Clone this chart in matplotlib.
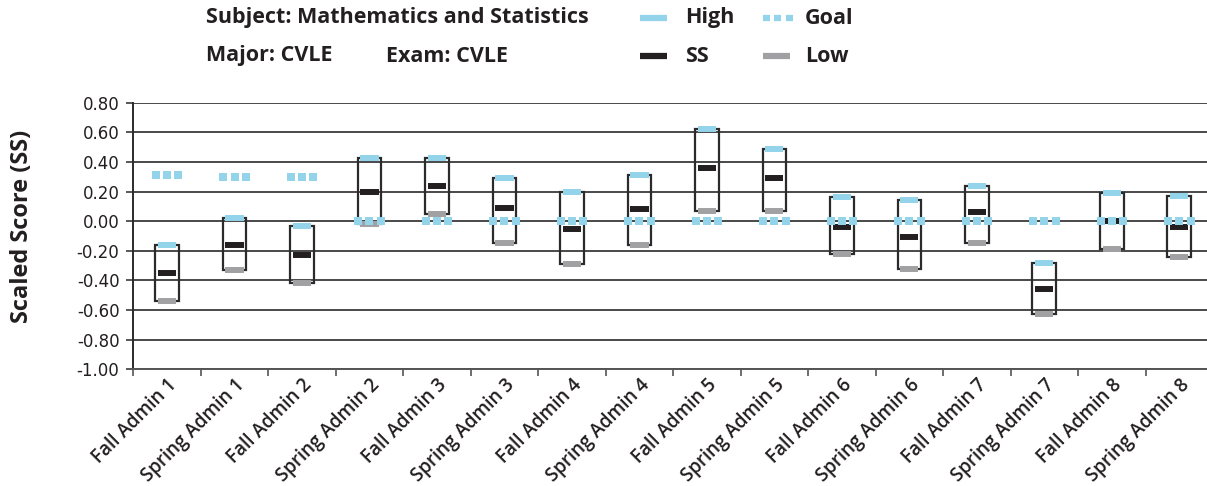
import numpy as np
import matplotlib
matplotlib.use("Agg")
import matplotlib.pyplot as plt
from matplotlib.lines import Line2D
from matplotlib.patches import Rectangle

plt.rcParams['axes.unicode_minus'] = False

admins = ['Fall Admin 1', 'Spring Admin 1', 'Fall Admin 2', 'Spring Admin 2',
          'Fall Admin 3', 'Spring Admin 3', 'Fall Admin 4', 'Spring Admin 4',
          'Fall Admin 5', 'Spring Admin 5', 'Fall Admin 6', 'Spring Admin 6',
          'Fall Admin 7', 'Spring Admin 7', 'Fall Admin 8', 'Spring Admin 8']
high = [-0.16, 0.02, -0.03, 0.43, 0.43, 0.29, 0.20, 0.31,
        0.62, 0.49, 0.16, 0.14, 0.24, -0.28, 0.19, 0.17]
ss = [-0.35, -0.16, -0.23, 0.20, 0.24, 0.09, -0.05, 0.08,
      0.36, 0.29, -0.04, -0.11, 0.06, -0.46, 0.00, -0.04]
low = [-0.54, -0.33, -0.42, -0.02, 0.05, -0.15, -0.29, -0.16,
       0.07, 0.07, -0.22, -0.32, -0.15, -0.63, -0.19, -0.24]
goal = [0.31, 0.30, 0.30, 0.00, 0.00, 0.00, 0.00, 0.00,
        0.00, 0.00, 0.00, 0.00, 0.00, 0.00, 0.00, 0.00]
yticks = [0.8, 0.6, 0.4, 0.2, 0.0, -0.2, -0.4, -0.6, -0.8, -1.0]

c_high = '#93d4ea'
c_ss = '#231f20'
c_low = '#a1a1a4'
c_text = '#231f20'

W, H = 1207, 486
fig = plt.figure(figsize=(W / 100, H / 100), dpi=100)
ax = fig.add_axes([133.3 / W, 116.7 / H, (1213 - 133.3) / W, 266.6 / H])

x = np.arange(len(admins))
ax.set_xlim(-0.5, len(admins) - 0.5)
ax.set_ylim(-1.0, 0.8)

for v in yticks:
    ax.axhline(v, color='#3a3a3a', lw=1.3, zorder=1)

box_w = 0.35
bar_w = 0.27
for i in x:
    ax.add_patch(Rectangle((i - box_w / 2, low[i]), box_w, high[i] - low[i],
                           fill=False, ec='#2b2b2b', lw=1.6, zorder=2))
    ax.plot([i - bar_w / 2, i + bar_w / 2], [high[i]] * 2, color=c_high,
            lw=4.3, solid_capstyle='butt', zorder=3)
    ax.plot([i - bar_w / 2, i + bar_w / 2], [low[i]] * 2, color=c_low,
            lw=4.3, solid_capstyle='butt', zorder=3)
    ax.plot([i - bar_w / 2, i + bar_w / 2], [ss[i]] * 2, color=c_ss,
            lw=4.3, solid_capstyle='butt', zorder=4)
    gx = i + np.array([-1, 0, 1]) * 0.167
    ax.scatter(gx, [goal[i]] * 3, marker='s', s=26, color=c_high,
               linewidths=0, zorder=5)

ax.set_yticks(yticks)
ax.set_yticklabels(['%.2f' % v for v in yticks], family='DejaVu Sans',
                   fontsize=12, color=c_text)
ax.tick_params(axis='y', length=5, width=1.2, color='#3a3a3a', pad=5)

ax.set_xticks(np.arange(len(admins) + 1) - 0.5)
ax.set_xticklabels([])
ax.tick_params(axis='x', which='major', length=5, width=1.2, color='#555555')
ax.set_xticks(x, minor=True)
ax.set_xticklabels(admins, minor=True, rotation=45, ha='right',
                   rotation_mode='anchor', family='Open Sans',
                   fontweight='semibold', fontsize=13.5, color=c_text)
ax.tick_params(axis='x', which='minor', length=0, pad=4)

for s in ['top', 'right']:
    ax.spines[s].set_visible(False)
ax.spines['left'].set_color('#2b2b2b')
ax.spines['left'].set_linewidth(1.4)
ax.spines['bottom'].set_color('#555555')
ax.spines['bottom'].set_linewidth(1.4)

fig.text(22 / W, 1 - 226 / H, 'Scaled Score (SS)', rotation=90, ha='center',
         va='center', family='Open Sans', fontweight='bold', fontsize=17,
         color=c_text)

# header and legend
hdr = dict(family='Open Sans', fontweight='bold', fontsize=15.5,
           color=c_text, va='center')
fig.text(206 / W, 1 - 18 / H, 'Subject: Mathematics and Statistics', **hdr)
fig.text(206 / W, 1 - 56 / H, 'Major: CVLE', **hdr)
fig.text(386 / W, 1 - 56 / H, 'Exam: CVLE', **hdr)

def legend_bar(x0, x1, y, color, dotted=False):
    yy = 1 - y / H
    if dotted:
        for k in range(3):
            xs = x0 + k * 11.3
            fig.add_artist(Line2D([xs / W, (xs + 7) / W], [yy, yy], color=color,
                                  lw=4.5, solid_capstyle='butt'))
    else:
        fig.add_artist(Line2D([x0 / W, x1 / W], [yy, yy], color=color, lw=4.5,
                              solid_capstyle='butt'))

legend_bar(640, 667, 18, c_high)
fig.text(685 / W, 1 - 18 / H, 'High', **hdr)
legend_bar(763, 790, 18, c_high, dotted=True)
fig.text(805 / W, 1 - 18 / H, 'Goal', **hdr)
legend_bar(640, 667, 56, c_ss)
fig.text(685 / W, 1 - 56 / H, 'SS', **hdr)
legend_bar(763, 790, 56, c_low)
fig.text(805 / W, 1 - 56 / H, 'Low', **hdr)

fig.savefig('out.png', dpi=100)
